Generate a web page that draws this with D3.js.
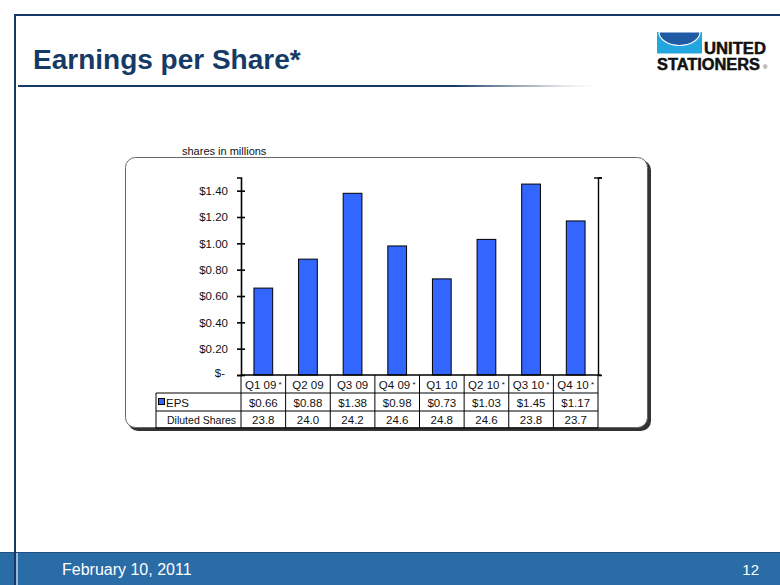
<!DOCTYPE html>
<html>
<head>
<meta charset="utf-8">
<script src="https://cdn.jsdelivr.net/npm/d3@7"></script>
<style>
  body { margin: 0; background: #fff; }
  svg { display: block; font-family: "Liberation Sans", Arial, sans-serif; }
</style>
</head>
<body>
<div id="chart"></div>
<script>
var quarters = ["Q1 09", "Q2 09", "Q3 09", "Q4 09", "Q1 10", "Q2 10", "Q3 10", "Q4 10"];
var starred = [true, false, false, true, false, true, true, true];
var eps = [0.66, 0.88, 1.38, 0.98, 0.73, 1.03, 1.45, 1.17];
var dilutedShares = ["23.8", "24.0", "24.2", "24.6", "24.8", "24.6", "23.8", "23.7"];
var yTicks = [0, 0.2, 0.4, 0.6, 0.8, 1.0, 1.2, 1.4];

var svgWidth = 780, svgHeight = 585;
var navy = "#163a66";
var barBlue = "#3366ff";

var svg = d3.select("#chart")
  .append("svg")
  .attr("width", svgWidth)
  .attr("height", svgHeight);

// slide frame
svg.append("rect")
  .attr("x", 0).attr("y", 552).attr("width", svgWidth).attr("height", 33)
  .attr("fill", "#2a6ca6");
svg.append("line")
  .attr("x1", 0).attr("x2", svgWidth).attr("y1", 552.5).attr("y2", 552.5)
  .attr("stroke", "#1d4f80").attr("stroke-width", 1);
svg.append("line")
  .attr("x1", 14).attr("x2", svgWidth).attr("y1", 15).attr("y2", 15)
  .attr("stroke", navy).attr("stroke-width", 2);
svg.append("line")
  .attr("x1", 15).attr("x2", 15).attr("y1", 14).attr("y2", svgHeight)
  .attr("stroke", navy).attr("stroke-width", 2);
svg.append("line")
  .attr("x1", 17).attr("x2", 17).attr("y1", 553).attr("y2", svgHeight)
  .attr("stroke", "#ffffff").attr("stroke-width", 1.5).attr("opacity", 0.7);

// title + fading underline
svg.append("text")
  .attr("x", 33).attr("y", 69)
  .attr("font-size", 28).attr("font-weight", "bold")
  .attr("fill", navy)
  .text("Earnings per Share*");

var grad = svg.append("defs").append("linearGradient")
  .attr("id", "fade").attr("x1", "0%").attr("x2", "100%");
grad.append("stop").attr("offset", "0%").attr("stop-color", navy).attr("stop-opacity", 1);
grad.append("stop").attr("offset", "74%").attr("stop-color", navy).attr("stop-opacity", 1);
grad.append("stop").attr("offset", "88%").attr("stop-color", "#8a96a6").attr("stop-opacity", 0.6);
grad.append("stop").attr("offset", "100%").attr("stop-color", "#ffffff").attr("stop-opacity", 0);
svg.append("rect")
  .attr("x", 18).attr("y", 85).attr("width", 590).attr("height", 2)
  .attr("fill", "url(#fade)");

// logo
var logo = svg.append("g");
logo.append("rect")
  .attr("x", 657).attr("y", 32).attr("width", 45).attr("height", 21.5)
  .attr("fill", "#22a6e0");
logo.append("path")
  .attr("d", "M659,32 A20.5,13.5 0 0 0 700,32 Z")
  .attr("fill", "#1f5aa5").attr("stroke", "#ffffff").attr("stroke-width", 1.2);
logo.append("text")
  .attr("x", 704).attr("y", 54)
  .attr("font-size", 17).attr("font-weight", "bold")
  .attr("stroke", "#111").attr("stroke-width", 0.5)
  .attr("textLength", 62).attr("lengthAdjust", "spacingAndGlyphs")
  .attr("fill", "#111").text("UNITED");
logo.append("text")
  .attr("x", 657).attr("y", 70)
  .attr("font-size", 16).attr("font-weight", "bold")
  .attr("stroke", "#111").attr("stroke-width", 0.5)
  .attr("textLength", 103).attr("lengthAdjust", "spacingAndGlyphs")
  .attr("fill", "#111").text("STATIONERS");
logo.append("text")
  .attr("x", 763).attr("y", 69)
  .attr("font-size", 6).attr("fill", "#333").text("®");

// footer text
svg.append("text")
  .attr("x", 62).attr("y", 575)
  .attr("font-size", 16).attr("fill", "#ffffff")
  .text("February 10, 2011");
svg.append("text")
  .attr("x", 759).attr("y", 575).attr("text-anchor", "end")
  .attr("font-size", 15).attr("fill", "#ffffff")
  .text("12");

// chart box with shadow
svg.append("rect")
  .attr("x", 128).attr("y", 160).attr("width", 523).attr("height", 271)
  .attr("rx", 10).attr("fill", "#333");
svg.append("rect")
  .attr("x", 125.5).attr("y", 157.5).attr("width", 522).attr("height", 270)
  .attr("rx", 10).attr("fill", "#ffffff").attr("stroke", "#666").attr("stroke-width", 1);

svg.append("text")
  .attr("x", 182).attr("y", 155)
  .attr("font-size", 11).attr("fill", "#111")
  .text("shares in millions");

// scales
var plotLeft = 241, plotRight = 598;
var x = d3.scaleBand().domain(quarters).range([plotLeft, plotRight]).padding(0);
var y = d3.scaleLinear().domain([0, 1.5]).range([375, 177.5]);
var barW = x.bandwidth() * 0.42;

// bars
svg.append("g").selectAll("rect")
  .data(quarters)
  .enter()
  .append("rect")
  .attr("x", (d, i) => x(d) + (x.bandwidth() - barW) / 2)
  .attr("y", (d, i) => y(eps[i]))
  .attr("width", barW)
  .attr("height", (d, i) => y(0) - y(eps[i]))
  .attr("fill", barBlue)
  .attr("stroke", "#000").attr("stroke-width", 1);

// left axis with crossing ticks
var leftAxis = d3.axisLeft(y)
  .tickValues(yTicks)
  .tickSizeOuter(0)
  .tickSize(4)
  .tickPadding(9)
  .tickFormat(d => d === 0 ? "$-" : "$" + d3.format(".2f")(d));
var gy = svg.append("g")
  .attr("transform", `translate(${plotLeft},0)`)
  .call(leftAxis);
gy.select(".domain").attr("stroke-width", 1.6);
gy.selectAll(".tick line").attr("x1", 4).attr("x2", -4).attr("stroke-width", 1.6);
gy.selectAll(".tick text").attr("font-size", 11.5).attr("fill", "#111")
  .attr("font-family", "'Liberation Sans', Arial, sans-serif");
gy.select(".tick text").attr("dy", "0.1em").attr("x", -16);

// right axis (no labels)
var rightAxis = d3.axisRight(y).tickValues([1.5]).tickSizeOuter(0).tickSize(4).tickFormat("");
var gr = svg.append("g")
  .attr("transform", `translate(${plotRight},0)`)
  .call(rightAxis);
gr.select(".domain").attr("stroke-width", 1.4);
gr.selectAll(".tick line").attr("x1", -4).attr("x2", 4).attr("stroke-width", 1.4);

// data table
var table = svg.append("g").attr("stroke", "#000").attr("stroke-width", 1);
var labelLeft = 156;

table.append("line")
  .attr("x1", plotLeft).attr("x2", plotRight + 3).attr("y1", 375).attr("y2", 375)
  .attr("stroke-width", 1.6);
[393, 411, 428].forEach(function(yy) {
  table.append("line")
    .attr("x1", labelLeft).attr("x2", plotRight).attr("y1", yy).attr("y2", yy);
});
table.append("line")
  .attr("x1", labelLeft).attr("x2", labelLeft).attr("y1", 393).attr("y2", 428);
table.selectAll(".col")
  .data(quarters.concat(["end"]))
  .enter()
  .append("line")
  .attr("x1", (d, i) => i < quarters.length ? x(d) : plotRight)
  .attr("x2", (d, i) => i < quarters.length ? x(d) : plotRight)
  .attr("y1", 375).attr("y2", 428);

var tfont = 11.5;
// header row
var hdr = svg.append("g").selectAll("text")
  .data(quarters)
  .enter()
  .append("text")
  .attr("x", d => x(d) + x.bandwidth() / 2)
  .attr("y", 388.5)
  .attr("text-anchor", "middle")
  .attr("font-size", tfont).attr("fill", "#111");
hdr.append("tspan").text(d => d);
hdr.append("tspan")
  .attr("font-size", 8).attr("dy", -2)
  .text((d, i) => starred[i] ? " *" : "");

svg.append("g").selectAll("text")
  .data(quarters)
  .enter()
  .append("text")
  .attr("x", d => x(d) + x.bandwidth() / 2)
  .attr("y", 406.5)
  .attr("text-anchor", "middle")
  .attr("font-size", tfont).attr("fill", "#111")
  .text((d, i) => "$" + d3.format(".2f")(eps[i]));

svg.append("g").selectAll("text")
  .data(quarters)
  .enter()
  .append("text")
  .attr("x", d => x(d) + x.bandwidth() / 2)
  .attr("y", 424)
  .attr("text-anchor", "middle")
  .attr("font-size", tfont).attr("fill", "#111")
  .text((d, i) => dilutedShares[i]);

// row labels
svg.append("rect")
  .attr("x", 158.5).attr("y", 398.5).attr("width", 6).attr("height", 6)
  .attr("fill", barBlue).attr("stroke", "#000").attr("stroke-width", 1);
svg.append("text")
  .attr("x", 166).attr("y", 406.5)
  .attr("font-size", tfont).attr("fill", "#111")
  .text("EPS");
svg.append("text")
  .attr("x", 167).attr("y", 424)
  .attr("font-size", tfont).attr("fill", "#111")
  .attr("textLength", 69).attr("lengthAdjust", "spacingAndGlyphs")
  .text("Diluted Shares");
</script>
</body>
</html>
